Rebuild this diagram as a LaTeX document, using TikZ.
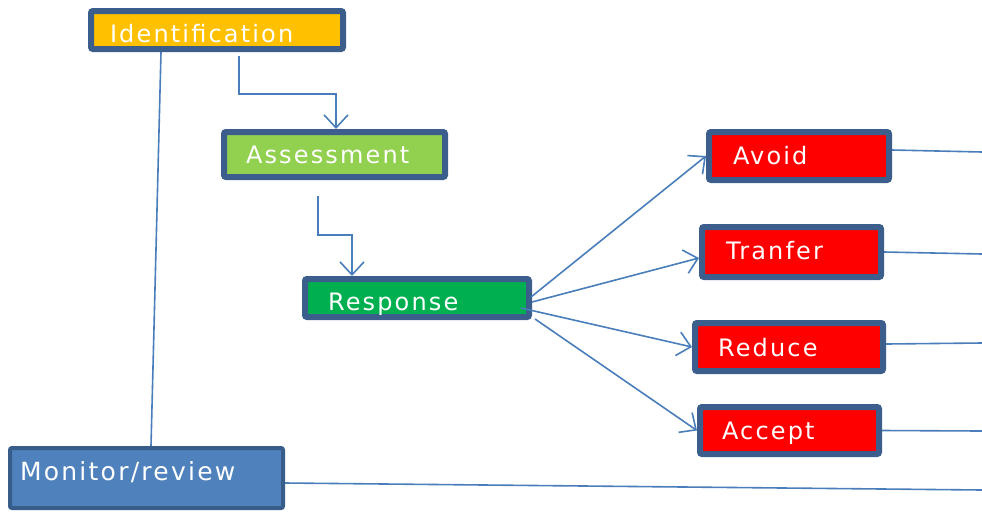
\documentclass[tikz,border=0pt]{standalone}
\usepackage{fontspec}
\usetikzlibrary{arrows.meta}
\newfontfamily\boxfont[LetterSpace=9]{DejaVu Sans}
\definecolor{bdr}{HTML}{3B5E8C}
\definecolor{lnk}{HTML}{4A7EBB}
\definecolor{cyel}{HTML}{FFC000}
\definecolor{clgr}{HTML}{92D050}
\definecolor{cgrn}{HTML}{00B050}
\definecolor{cred}{HTML}{FF0000}
\definecolor{cmon}{HTML}{4F81BD}
\definecolor{bmon}{HTML}{385D8A}
\begin{document}
\begin{tikzpicture}[x=1pt,y=-1pt,
  box/.style={draw=bdr, line width=6pt, rounded corners=2pt, anchor=north west,
    inner ysep=0pt, text=white, align=left, text height=24pt, text depth=0pt,
    font=\boxfont\fontsize{24}{28}\selectfont},
  lnkline/.style={draw=lnk, line width=1.6pt},
  arr/.style={lnkline, -{Straight Barb[length=13pt,width=24pt,line width=1.6pt]}}]
\useasboundingbox (0,0) rectangle (982,512);
\node[box, fill=cyel, minimum width=252pt, minimum height=38pt, inner xsep=19pt, text width=214pt] (ident) at (88,8) {Identification};
\node[box, fill=clgr, minimum width=221pt, minimum height=45pt, inner xsep=22pt, text width=177pt, text height=18pt] (assess) at (221,129) {Assessment};
\node[box, fill=cgrn, minimum width=224pt, minimum height=38pt, inner xsep=23pt, text width=178pt] (resp) at (302,276) {Response};
\node[box, fill=cred, minimum width=180pt, minimum height=48pt, inner xsep=24pt, text width=132pt, text height=17pt] (avoid) at (706,129) {Avoid};
\node[box, fill=cred, minimum width=179pt, minimum height=50pt, inner xsep=24pt, text width=131pt, text height=14pt] (tranfer) at (699,224) {Tranfer};
\node[box, fill=cred, minimum width=188pt, minimum height=48pt, inner xsep=23pt, text width=142pt, text height=18pt] (reduce) at (692,320) {Reduce};
\node[box, fill=cred, minimum width=179pt, minimum height=47pt, inner xsep=22pt, text width=135pt, text height=18pt] (accept) at (697,404) {Accept};
\node[box, draw=bmon, fill=cmon, line width=4pt, minimum width=273pt, minimum height=60pt, inner xsep=10pt, text width=253pt, text height=5pt, font=\boxfont\fontsize{25}{29}\selectfont] (monitor) at (8,446) {Monitor/review};

\coordinate (r1) at (531,297);
\coordinate (r2) at (532,302);
\coordinate (r3) at (521,308);
\coordinate (r4) at (535,319);
\coordinate (e1) at (982,152);
\coordinate (e2) at (982,254);
\coordinate (e3) at (982,343);
\coordinate (e4) at (982,431);
\coordinate (e5) at (982,490);

\draw[lnkline] ([xshift=-56pt]ident.south) -- ([xshift=4.5pt]monitor.north);
\draw[arr] ([xshift=22pt,yshift=-4pt]ident.south) -- ++(0,38) -| ([xshift=1.5pt]assess.north);
\draw[arr] ([xshift=-16.5pt,yshift=-16pt]assess.south) -- ++(0,39) -| ([xshift=-65pt]resp.north);
\draw[arr] (r1) -- (avoid.west);
\draw[arr] (r2) -- ([yshift=-6pt]tranfer.west);
\draw[arr] (r3) -- (reduce.west);
\draw[arr] (r4) -- (accept.west);
\draw[lnkline] ([yshift=6pt]avoid.east) -- (e1);
\draw[lnkline] (tranfer.east) -- (e2);
\draw[lnkline] ([yshift=3pt]reduce.east) -- (e3);
\draw[lnkline] (accept.east) -- (e4);
\draw[lnkline] ([yshift=-5pt]monitor.east) -- (e5);
\end{tikzpicture}
\end{document}
